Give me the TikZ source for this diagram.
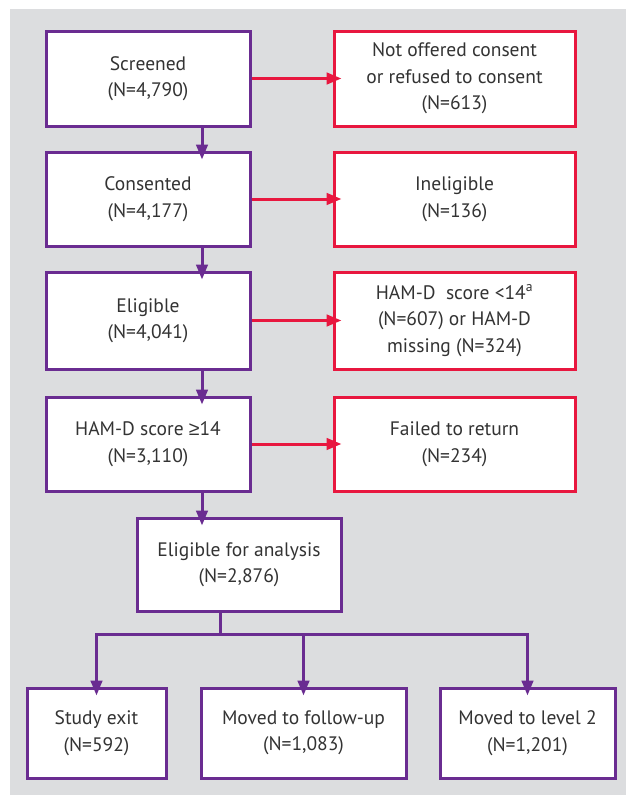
\documentclass[tikz,border=0pt]{standalone}
\usepackage{fontspec}
\setmainfont{PT Sans}
\newfontfamily\symf{Liberation Sans}
\usetikzlibrary{arrows.meta}
\definecolor{pur}{HTML}{6A2C91}
\definecolor{rd}{HTML}{E8173F}
\definecolor{bg}{HTML}{DCDDDF}
\definecolor{txt}{HTML}{333333}
\tikzset{
  box/.style={draw, line width=3pt, fill=white, align=center, text=txt,
    font=\fontsize{19.5}{26.5}\selectfont, inner sep=0pt},
  pbox/.style={box, draw=pur},
  rbox/.style={box, draw=rd},
  tip/.style={-{Triangle[length=15pt,width=11.5pt]}, shorten >=-9pt},
  parrow/.style={tip, draw=pur, line width=3pt},
  rarrow/.style={tip, draw=rd, line width=3pt},
}
\begin{document}
\begin{tikzpicture}[x=1pt,y=-1pt]
\useasboundingbox (0,0) rectangle (626,795);
\fill[bg] (10,9) rectangle (626,795);
\coordinate (col) at (202,0);
\coordinate (split) at (220,634);
% left column
\node[pbox, minimum width=204pt, minimum height=95pt] (scr) at (148,78.5) {Screened\\(N=4,790)};
\node[pbox, minimum width=204pt, minimum height=94pt] (con) at (148,199) {Consented\\(N=4,177)};
\node[pbox, minimum width=204pt, minimum height=97pt] (eli) at (148,320.5) {Eligible\\(N=4,041)};
\node[pbox, minimum width=204pt, minimum height=94pt] (ham) at (148,444) {HAM-D score {\symf ≥}14\\(N=3,110)};
% right column
\node[rbox, minimum width=241pt, minimum height=95pt] (nof) at (454.5,78.5) {Not offered consent\\or refused to consent\\(N=613)};
\node[rbox, minimum width=241pt, minimum height=94pt] (ine) at (454.5,199) {Ineligible\\(N=136)};
\node[rbox, minimum width=241pt, minimum height=97pt] (low) at (454.5,320.5) {HAM-D\ \ score <14\textsuperscript{a}\\(N=607) or HAM-D\\missing (N=324)};
\node[rbox, minimum width=241pt, minimum height=94pt] (fai) at (454.5,444) {Failed to return\\(N=234)};
% analysis
\node[pbox, minimum width=204pt, minimum height=93pt] (ana) at (239,564.5) {Eligible for analysis\\(N=2,876)};
% bottom row
\node[pbox, minimum width=139pt, minimum height=90pt] (exi) at (96.5,733) {Study exit\\(N=592)};
\node[pbox, minimum width=205pt, minimum height=90pt] (fol) at (303.5,733) {Moved to follow-up\\(N=1,083)};
\node[pbox, minimum width=175pt, minimum height=90pt] (lev) at (527.5,733) {Moved to level 2\\(N=1,201)};
% vertical arrows
\draw[parrow] (scr.south -| col) -- (con.north -| col);
\draw[parrow] (con.south -| col) -- (eli.north -| col);
\draw[parrow] (eli.south -| col) -- (ham.north -| col);
\draw[parrow] (ham.south -| col) -- (ana.north -| col);
% horizontal arrows
\draw[rarrow] (scr.east) -- (nof.west);
\draw[rarrow] (con.east) -- (ine.west);
\draw[rarrow] (eli.east) -- (low.west);
\draw[rarrow] (ham.east) -- (fai.west);
% split
\draw[draw=pur, line width=3pt] (ana.south -| split) -- (split);
\draw[parrow] (split) -| (exi.north);
\draw[parrow] (split) -| (fol.north);
\draw[parrow] (split) -| (lev.north);
\end{tikzpicture}
\end{document}
